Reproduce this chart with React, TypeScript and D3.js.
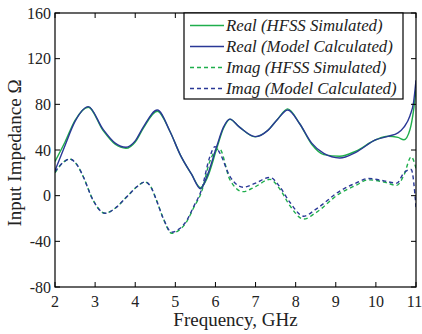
import React from "react";
import * as d3 from "d3";

// data (frequency in GHz, impedance in ohm)
const realFreq = [2, 2.25, 2.5, 2.83, 3.2, 3.5, 3.77, 4.0, 4.2, 4.55, 4.87, 5.12, 5.4, 5.63, 5.8, 6.03, 6.2, 6.36, 6.6, 6.99, 7.3, 7.55, 7.8, 8.1, 8.4, 8.7, 9.1, 9.5, 10.0, 10.3, 10.55, 10.7, 10.85, 10.94, 11];
const realHfss = [30, 47, 66, 77.5, 57, 45, 41.5, 47, 59, 74, 56, 36, 19, 7, 16, 41, 59, 67, 60, 51.5, 57, 67, 76, 63, 45, 36, 34.5, 39, 49, 52, 51, 49, 58, 75, 93];
const realModel = [22, 44, 65, 78, 58, 46, 42.4, 48, 60, 75, 56, 36, 19, 6, 18, 43, 60, 67, 60, 51.7, 57, 67, 75, 63, 46, 37, 33, 38, 49, 52, 55, 60, 70, 82, 101];

const imagFreq = [2, 2.2, 2.37, 2.55, 2.7, 2.95, 3.25, 3.5, 3.79, 4.05, 4.24, 4.4, 4.53, 4.7, 4.91, 5.1, 5.28, 5.45, 5.65, 5.86, 5.99, 6.1, 6.36, 6.69, 7.0, 7.36, 7.6, 7.86, 8.2, 8.5, 9.1, 9.5, 9.81, 10.2, 10.52, 10.7, 10.88, 11];
const imagHfss = [20, 29, 32, 27, 17, -4, -15.4, -11, -1, 8, 12, 7, -4, -20, -33, -30, -23, -11, 3, 30, 39, 41, 14, 3.5, 8, 14.3, 6, -9, -20.5, -15, 2, 9, 13.8, 12, 9, 18, 34, 24];
const imagModel = [21, 29, 32, 27, 17, -4, -15.4, -11, -1, 8, 12, 7, -4, -20, -32, -29, -22, -10, 5, 34, 43, 38, 17, 7.4, 11, 16, 8, -6, -18, -12, 4, 11, 15, 13, 11, 20, 23, -10];

const xTicks = [2, 3, 4, 5, 6, 7, 8, 9, 10, 11];
const yTicks = [-80, -40, 0, 40, 80, 120, 160];

const legendItems = [
  { label: "Real (HFSS Simulated)", color: "#1fae4c", dash: "" },
  { label: "Real (Model Calculated)", color: "#2a3896", dash: "" },
  { label: "Imag (HFSS Simulated)", color: "#1fae4c", dash: "4,3" },
  { label: "Imag (Model Calculated)", color: "#2a3896", dash: "4,3" },
];

const W = 422;
const H = 334;
const margin = { left: 55, right: 6, top: 13, bottom: 47 };
const font = "'Liberation Serif', 'Times New Roman', serif";

const App = () => {
  const x = d3.scaleLinear().domain([2, 11]).range([margin.left, W - margin.right]);
  const y = d3.scaleLinear().domain([-80, 160]).range([H - margin.bottom, margin.top]);

  const line = d3
    .line<[number, number]>()
    .x((d) => x(d[0]))
    .y((d) => y(d[1]))
    .curve(d3.curveMonotoneX);

  const pairs = (fs: number[], vs: number[]) => fs.map((f, i) => [f, vs[i]] as [number, number]);

  const series = [
    { d: pairs(imagFreq, imagHfss), color: legendItems[2].color, dash: legendItems[2].dash },
    { d: pairs(imagFreq, imagModel), color: legendItems[3].color, dash: legendItems[3].dash },
    { d: pairs(realFreq, realHfss), color: legendItems[0].color, dash: "" },
    { d: pairs(realFreq, realModel), color: legendItems[1].color, dash: "" },
  ];

  const x0 = margin.left;
  const x1 = W - margin.right;
  const y0 = margin.top;
  const y1 = H - margin.bottom;
  const tk = 5;

  // legend box
  const lg = { x: 184, y: 13, w: 219, h: 86, row: 21 };

  return (
    <svg width={W} height={H} style={{ position: "absolute", left: 0, top: 0, background: "#fff" }} fontFamily={font}>
      <defs>
        <clipPath id="plot">
          <rect x={x0} y={y0} width={x1 - x0} height={y1 - y0} />
        </clipPath>
      </defs>
      <rect x={0} y={0} width={W} height={H} fill="#fff" />

      <g clipPath="url(#plot)">
        {series.map((s, i) => (
          <path key={i} d={line(s.d) || ""} fill="none" stroke={s.color} strokeWidth={1.4} strokeDasharray={s.dash || undefined} />
        ))}
      </g>

      {/* ticks inward on all sides */}
      {xTicks.map((t) => (
        <g key={"x" + t}>
          <line x1={x(t)} x2={x(t)} y1={y1} y2={y1 - tk} stroke="#000" strokeWidth={1} />
          <line x1={x(t)} x2={x(t)} y1={y0} y2={y0 + tk} stroke="#000" strokeWidth={1} />
          <text x={t === 11 ? x(t) - 1.5 : x(t)} y={307} fontSize={16} textAnchor="middle" fill="#222">
            {t}
          </text>
        </g>
      ))}
      {yTicks.map((t) => (
        <g key={"y" + t}>
          <line x1={x0} x2={x0 + tk} y1={y(t)} y2={y(t)} stroke="#000" strokeWidth={1} />
          <line x1={x1} x2={x1 - tk} y1={y(t)} y2={y(t)} stroke="#000" strokeWidth={1} />
          <text x={51} y={y(t)} dy="0.35em" fontSize={16} textAnchor="end" fill="#222">
            {t}
          </text>
        </g>
      ))}

      <rect x={x0} y={y0} width={x1 - x0} height={y1 - y0} fill="none" stroke="#000" strokeWidth={1.2} />

      {/* legend */}
      <rect x={lg.x} y={lg.y} width={lg.w} height={lg.h} fill="#fff" stroke="#000" strokeWidth={1.2} />
      {legendItems.map((it, i) => {
        const cy = lg.y + 12.5 + i * lg.row;
        return (
          <g key={it.label}>
            <line x1={lg.x + 6} x2={lg.x + 40} y1={cy} y2={cy} stroke={it.color} strokeWidth={1.4} strokeDasharray={it.dash || undefined} />
            <text x={lg.x + 42} y={cy} dy="0.33em" fontSize={16.8} fontStyle="italic" fill="#222">
              {it.label}
            </text>
          </g>
        );
      })}

      <text x={(x0 + x1) / 2} y={326} fontSize={19} textAnchor="middle" fill="#222">
        Frequency, GHz
      </text>
      <text transform={`translate(21, ${(y0 + y1) / 2 + 3}) rotate(-90)`} fontSize={19} textAnchor="middle" fill="#222">
        Input Impedance Ω
      </text>
    </svg>
  );
};

export default App;
